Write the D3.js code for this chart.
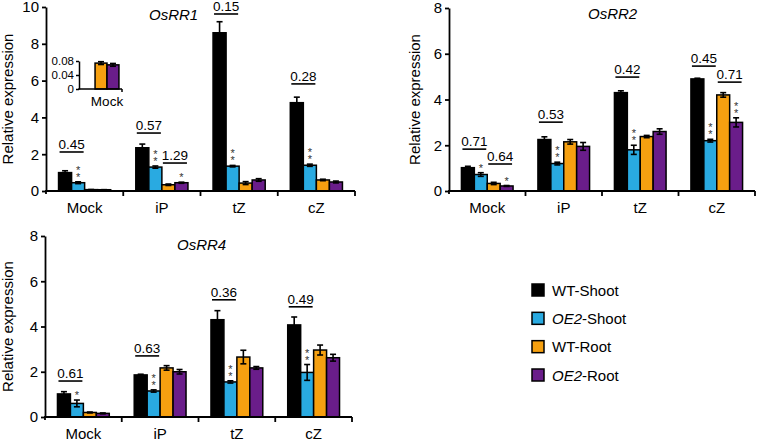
<!DOCTYPE html>
<html><head><meta charset="utf-8">
<script src="https://cdn.jsdelivr.net/npm/d3@7"></script>
<style>
body{margin:0;background:#fff;}
svg{display:block;font-family:"Liberation Sans",Arial,sans-serif;}
</style></head>
<body><svg id="chart" width="758" height="442"></svg>
<script>
const categories = ["Mock", "iP", "tZ", "cZ"];
const seriesNames = ["WT-Shoot", "OE2-Shoot", "WT-Root", "OE2-Root"];
const seriesColors = ["#000000", "#29aae1", "#f6a010", "#6a1d8a"];

// OsRR1: means [series][category], errors
const rr1Means = [
  [1.0, 2.35, 8.6, 4.8],
  [0.45, 1.3, 1.35, 1.4],
  [0.074, 0.34, 0.43, 0.6],
  [0.069, 0.45, 0.6, 0.49]
];
const rr1Errors = [
  [0.1, 0.2, 0.6, 0.3],
  [0.05, 0.06, 0.04, 0.06],
  [0.004, 0.04, 0.08, 0.04],
  [0.004, 0.03, 0.07, 0.05]
];
const rr1YTicks = [0, 2, 4, 6, 8, 10];
const rr1PValues = [
  {cat: "Mock", from: 0, to: 1, label: "0.45", level: 2.12},
  {cat: "iP", from: 0, to: 1, label: "0.57", level: 3.15},
  {cat: "iP", from: 2, to: 3, label: "1.29", level: 1.52},
  {cat: "tZ", from: 0, to: 1, label: "0.15", level: 9.62},
  {cat: "cZ", from: 0, to: 1, label: "0.28", level: 5.82}
];
const rr1Stars = [
  {cat: "Mock", s: 1, n: 2}, {cat: "iP", s: 1, n: 2}, {cat: "iP", s: 3, n: 1},
  {cat: "tZ", s: 1, n: 2}, {cat: "cZ", s: 1, n: 2}
];
// inset of OsRR1 Mock roots
const insetSeries = [2, 3];
const insetTicks = [0, 0.04, 0.08];

// OsRR2
const rr2Means = [
  [1.02, 2.25, 4.3, 4.9],
  [0.72, 1.2, 1.8, 2.2],
  [0.33, 2.15, 2.38, 4.2],
  [0.22, 1.95, 2.6, 3.0]
];
const rr2Errors = [
  [0.06, 0.12, 0.08, 0.03],
  [0.08, 0.06, 0.2, 0.06],
  [0.05, 0.1, 0.05, 0.1],
  [0.02, 0.17, 0.12, 0.2]
];
const rr2YTicks = [0, 2, 4, 6, 8];
const rr2PValues = [
  {cat: "Mock", from: 0, to: 1, label: "0.71", level: 1.83},
  {cat: "Mock", from: 2, to: 3, label: "0.64", level: 1.18},
  {cat: "iP", from: 0, to: 1, label: "0.53", level: 3.01},
  {cat: "tZ", from: 0, to: 1, label: "0.42", level: 4.98},
  {cat: "cZ", from: 0, to: 1, label: "0.45", level: 5.46},
  {cat: "cZ", from: 2, to: 3, label: "0.71", level: 4.76}
];
const rr2Stars = [
  {cat: "Mock", s: 1, n: 1}, {cat: "Mock", s: 3, n: 1}, {cat: "iP", s: 1, n: 2},
  {cat: "tZ", s: 1, n: 2}, {cat: "cZ", s: 1, n: 2}, {cat: "cZ", s: 3, n: 2}
];

// OsRR4
const rr4Means = [
  [1.02, 1.86, 4.3, 4.07],
  [0.6, 1.15, 1.55, 1.97],
  [0.2, 2.17, 2.65, 2.96],
  [0.16, 2.0, 2.17, 2.62]
];
const rr4Errors = [
  [0.1, 0.03, 0.4, 0.35],
  [0.15, 0.05, 0.05, 0.35],
  [0.02, 0.1, 0.3, 0.22],
  [0.02, 0.1, 0.06, 0.15]
];
const rr4YTicks = [0, 2, 4, 6, 8];
const rr4PValues = [
  {cat: "Mock", from: 0, to: 1, label: "0.61", level: 1.59},
  {cat: "iP", from: 0, to: 1, label: "0.63", level: 2.7},
  {cat: "tZ", from: 0, to: 1, label: "0.36", level: 5.18},
  {cat: "cZ", from: 0, to: 1, label: "0.49", level: 4.87}
];
const rr4Stars = [
  {cat: "Mock", s: 1, n: 1}, {cat: "iP", s: 1, n: 2}, {cat: "tZ", s: 1, n: 2}, {cat: "cZ", s: 1, n: 2}
];

const svg = d3.select("#chart");
const AXW = 1.8;
const FONT = "Liberation Sans, Arial, sans-serif";

function drawErr(g, cx, yTop, yEnd, cap) {
  g.append("line").attr("x1", cx).attr("x2", cx).attr("y1", yTop).attr("y2", yEnd)
    .attr("stroke", "#000").attr("stroke-width", 1.6);
  [yTop, yEnd].forEach(yy => g.append("line").attr("x1", cx - cap).attr("x2", cx + cap)
    .attr("y1", yy).attr("y2", yy).attr("stroke", "#000").attr("stroke-width", 1.6));
}

function panel(cfg) {
  const g = svg.append("g");
  const x = d3.scaleBand().domain(categories).range([cfg.x0, cfg.x1])
    .paddingInner(0.325).paddingOuter(0.1625);
  const xs = d3.scaleBand().domain(d3.range(seriesNames.length)).range([0, x.bandwidth()]);
  const y = d3.scaleLinear().domain([0, cfg.yMax]).range([cfg.yBottom, cfg.yTop]);

  // bars
  cfg.means.forEach((vals, s) => {
    vals.forEach((v, i) => {
      const bx = x(categories[i]) + xs(s);
      g.append("rect").attr("x", bx).attr("y", y(v)).attr("width", xs.bandwidth())
        .attr("height", y(0) - y(v)).attr("fill", seriesColors[s])
        .attr("stroke", "#000").attr("stroke-width", 1.5);
    });
  });
  // error bars
  cfg.means.forEach((vals, s) => {
    vals.forEach((v, i) => {
      const e = cfg.errors[s][i];
      const cx = x(categories[i]) + xs(s) + xs.bandwidth() / 2;
      drawErr(g, cx, y(v + e), y(Math.max(0, v - e)), 3);
    });
  });

  // axes
  const ya = d3.axisLeft(y).tickValues(cfg.yTicks).tickSize(4).tickSizeOuter(0).tickFormat(d3.format("d"));
  const yg = g.append("g").attr("transform", `translate(${cfg.x0},0)`).call(ya);
  yg.select(".domain").attr("stroke-width", AXW);
  yg.selectAll(".tick line").attr("stroke-width", AXW);
  yg.selectAll("text").attr("font-size", 15).attr("fill", "#000")
    .attr("font-family", FONT).attr("x", -7);

  const xa = d3.axisBottom(x).tickSize(0).tickSizeOuter(0);
  const xg = g.append("g").attr("transform", `translate(0,${cfg.yBottom})`).call(xa);
  xg.select(".domain").attr("stroke-width", AXW).attr("d", `M${cfg.x0 - 0.9},0H${cfg.x1}`);
  xg.selectAll("text").attr("font-size", 15).attr("fill", "#000")
    .attr("font-family", FONT).attr("dy", 0).attr("y", 22);
  // boundary ticks between groups
  const bounds = d3.range(1, categories.length + 1).map(i => cfg.x0 + i * x.step());
  bounds.forEach(bx => g.append("line").attr("x1", bx).attr("x2", bx)
    .attr("y1", cfg.yBottom).attr("y2", cfg.yBottom + 5).attr("stroke", "#000").attr("stroke-width", AXW));
  g.append("line").attr("x1", cfg.x0).attr("x2", cfg.x0)
    .attr("y1", cfg.yBottom).attr("y2", cfg.yBottom + 3).attr("stroke", "#000").attr("stroke-width", AXW);

  // y label
  g.append("text").attr("transform", `translate(${cfg.labelX},${(cfg.yTop + cfg.yBottom) / 2}) rotate(-90)`)
    .attr("text-anchor", "middle").attr("font-size", 15).text("Relative expression");
  // title
  g.append("text").attr("x", cfg.titleX).attr("y", cfg.titleY).attr("font-size", 15)
    .attr("font-style", "italic").text(cfg.title);

  // p-values
  cfg.pvals.forEach(p => {
    const l = x(p.cat) + xs(p.from) + 1;
    const r = x(p.cat) + xs(p.to) + xs.bandwidth() - 1;
    const ly = y(p.level);
    g.append("line").attr("x1", l).attr("x2", r).attr("y1", ly).attr("y2", ly)
      .attr("stroke", "#000").attr("stroke-width", 1.6);
    g.append("text").attr("x", (l + r) / 2).attr("y", ly - 3).attr("text-anchor", "middle")
      .attr("font-size", 13.5).text(p.label);
  });
  // stars (stacked in one text element)
  cfg.stars.forEach(st => {
    const i = categories.indexOf(st.cat);
    const v = cfg.means[st.s][i] + cfg.errors[st.s][i];
    const cx = x(st.cat) + xs(st.s) + xs.bandwidth() / 2;
    const t = g.append("text").attr("text-anchor", "middle").attr("font-size", 11).attr("fill", "#333");
    for (let k = st.n - 1; k >= 0; k--) {
      t.append("tspan").attr("x", cx).attr("y", y(v) - 1 - k * 7).text("*");
    }
  });
  return {x, xs, y, g};
}

panel({x0: 46, x1: 355, yTop: 7, yBottom: 191, yMax: 10, yTicks: rr1YTicks,
  means: rr1Means, errors: rr1Errors, pvals: rr1PValues, stars: rr1Stars,
  title: "OsRR1", titleX: 149, titleY: 20, labelX: 13});
panel({x0: 449, x1: 755, yTop: 8, yBottom: 191, yMax: 8, yTicks: rr2YTicks,
  means: rr2Means, errors: rr2Errors, pvals: rr2PValues, stars: rr2Stars,
  title: "OsRR2", titleX: 588, titleY: 19, labelX: 420});
panel({x0: 45, x1: 352, yTop: 236, yBottom: 417, yMax: 8, yTicks: rr4YTicks,
  means: rr4Means, errors: rr4Errors, pvals: rr4PValues, stars: rr4Stars,
  title: "OsRR4", titleX: 177, titleY: 250, labelX: 13});

// inset
(function () {
  const g = svg.append("g");
  const xi = d3.scaleBand().domain(["Mock"]).range([79, 122]).paddingInner(0).paddingOuter(0.4).align(0.84);
  const xsi = d3.scaleBand().domain(insetSeries).range([0, xi.bandwidth()]);
  const yi = d3.scaleLinear().domain([0, 0.08]).range([89, 61]);
  insetSeries.forEach(s => {
    const v = rr1Means[s][0], e = rr1Errors[s][0];
    const bx = xi("Mock") + xsi(s);
    g.append("rect").attr("x", bx).attr("y", yi(v)).attr("width", xsi.bandwidth())
      .attr("height", yi(0) - yi(v)).attr("fill", seriesColors[s]).attr("stroke", "#000").attr("stroke-width", 1.5);
    const cx = bx + xsi.bandwidth() / 2;
    g.append("line").attr("x1", cx).attr("x2", cx).attr("y1", yi(v + e)).attr("y2", yi(v - e))
      .attr("stroke", "#000").attr("stroke-width", 1.6);
    [v + e, v - e].forEach(vv => g.append("line").attr("x1", cx - 3).attr("x2", cx + 3)
      .attr("y1", yi(vv)).attr("y2", yi(vv)).attr("stroke", "#000").attr("stroke-width", 1.6));
  });
  const ya = d3.axisLeft(yi).tickValues(insetTicks).tickSize(3).tickSizeOuter(0)
    .tickFormat(d => d === 0 ? "0" : d3.format(".2f")(d));
  const yg = g.append("g").attr("transform", "translate(79,0)").call(ya);
  yg.select(".domain").attr("stroke-width", 1.5);
  yg.selectAll(".tick line").attr("stroke-width", 1.5);
  yg.selectAll("text").attr("font-size", 11.5).attr("fill", "#000")
    .attr("font-family", FONT).attr("x", -5);
  const xa = d3.axisBottom(xi).tickSize(0).tickSizeOuter(0);
  const xg = g.append("g").attr("transform", "translate(0,89)").call(xa);
  xg.select(".domain").attr("stroke-width", 1.5).attr("d", "M78.25,0H122");
  xg.selectAll("text").attr("font-size", 13.5).attr("fill", "#000")
    .attr("font-family", FONT).attr("dy", 0).attr("y", 17);
  g.append("line").attr("x1", 122).attr("x2", 122).attr("y1", 89).attr("y2", 92)
    .attr("stroke", "#000").attr("stroke-width", 1.5);
})();

// legend
const leg = svg.append("g");
const lyScale = d3.scalePoint().domain(seriesNames).range([290, 375]);
seriesNames.forEach((name, s) => {
  const yy = lyScale(name);
  leg.append("rect").attr("x", 532).attr("y", yy - 6).attr("width", 12).attr("height", 12)
    .attr("fill", seriesColors[s]).attr("stroke", "#000").attr("stroke-width", 1.5);
  const t = leg.append("text").attr("x", 552).attr("y", yy + 5.5).attr("font-size", 15);
  const parts = name.split("-");
  if (parts[0] === "OE2") {
    t.append("tspan").attr("font-style", "italic").text("OE2");
    t.append("tspan").text("-" + parts[1]);
  } else {
    t.text(name);
  }
});
</script></body></html>
